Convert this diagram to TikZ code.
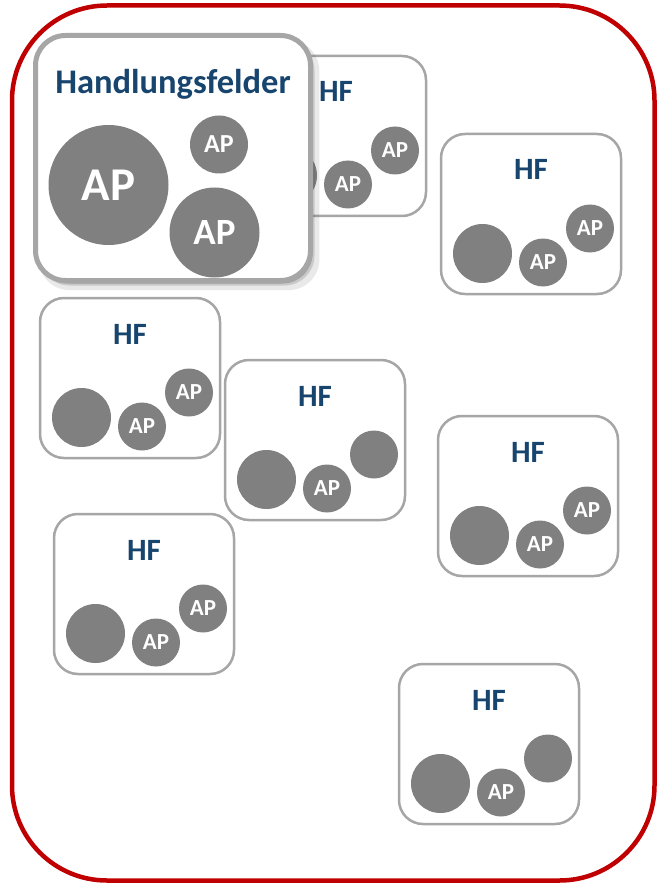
\documentclass[tikz,border=0pt]{standalone}
\usepackage{fontspec}
\setmainfont{Carlito}
\usetikzlibrary{shadows}
\definecolor{hfblue}{RGB}{24,69,110}
\definecolor{apgray}{RGB}{128,128,128}
\definecolor{boxgray}{RGB}{166,166,166}
\definecolor{outerred}{RGB}{192,0,0}
\tikzset{
  outerframe/.style={draw=outerred, line width=4.5pt, rounded corners=95pt},
  hfbox/.style={draw=boxgray, line width=2.5pt, rounded corners=24pt, fill=white,
    minimum width=180pt, minimum height=160pt, inner sep=0pt},
  mainbox/.style={draw=boxgray, line width=5pt, rounded corners=30pt, fill=white,
    minimum width=275pt, minimum height=245pt, inner sep=0pt,
    drop shadow={shadow xshift=6pt, shadow yshift=-7pt, opacity=0.12, fill=black!70, shadow scale=1.02},
    drop shadow={shadow xshift=4pt, shadow yshift=-5pt, opacity=0.2, fill=black!70},
    drop shadow={shadow xshift=2pt, shadow yshift=-3pt, opacity=0.3, fill=black!70}},
  hftitle/.style={text=hfblue, font=\bfseries\fontsize{31}{36}\selectfont, inner sep=0pt, anchor=base},
  maintitle/.style={text=hfblue, font=\bfseries\fontsize{34.5}{40}\selectfont, inner sep=0pt, anchor=base},
  apcircle/.style={circle, fill=apgray, inner sep=0pt, text=white, font=\bfseries\fontsize{23}{28}\selectfont},
}
\newcommand\HFbox[4]{%
  \node[hfbox] (#1) at ({#2+91},{#3+81}) {};
  \node[hftitle] (#1t) at ({#2+91},{#3+47}) {HF};
  \node[apcircle, minimum size=59pt] (#1a) at ({#2+42.5},{#3+120.5}) {};
  \node[apcircle, minimum size=48pt] (#1b) at ({#2+103},{#3+129.5}) {AP};
  \node[apcircle, minimum size=48pt] (#1c) at ({#2+150},{#3+95.5}) {#4};
}
\begin{document}
\begin{tikzpicture}[x=1pt,y=-1pt]
\useasboundingbox (0,0) rectangle (658,885);
\fill[white] (0,0) rectangle (658,885);
\draw[outerframe] (12,5.5) rectangle (654.5,880.5);
% HF boxes
\HFbox{hfA}{245}{55}{AP}
\HFbox{hfB}{440}{133}{AP}
\HFbox{hfC}{39}{297}{AP}
\HFbox{hfD}{224}{359}{}
\HFbox{hfE}{437}{415}{AP}
\HFbox{hfF}{53}{513}{AP}
\HFbox{hfG}{398}{663}{}
% main box
\node[mainbox] (main) at (173,158) {};
\node[maintitle] (maint) at (173,94) {Handlungsfelder};
\node[apcircle, minimum size=120pt, font=\bfseries\fontsize{47}{52}\selectfont] (mainA) at (108.5,185) {AP};
\node[apcircle, minimum size=58pt, font=\bfseries\fontsize{26}{30}\selectfont] (mainB) at (219,144.5) {AP};
\node[apcircle, minimum size=90pt, font=\bfseries\fontsize{37}{42}\selectfont] (mainC) at (214.5,232.5) {AP};
\end{tikzpicture}
\end{document}
